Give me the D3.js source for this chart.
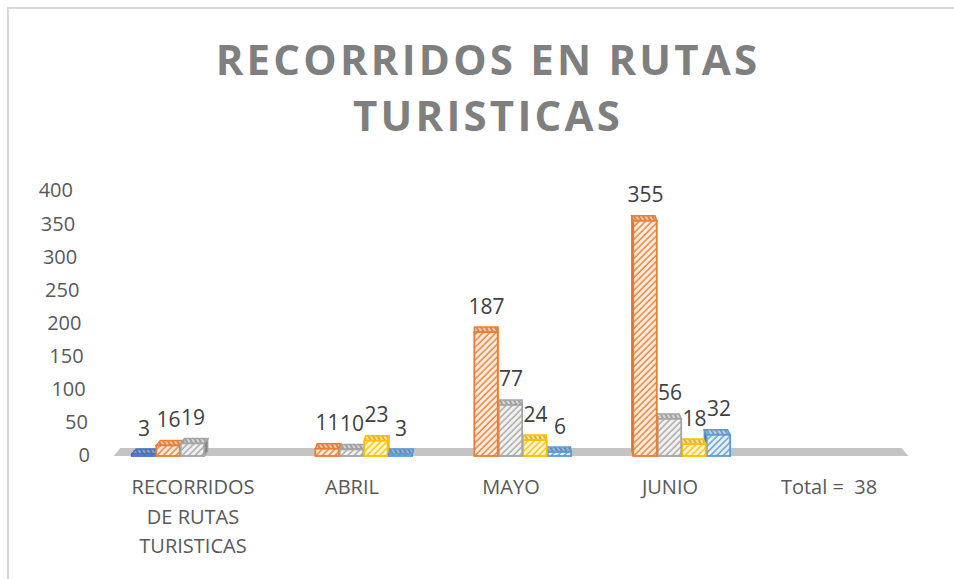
<body style="margin:0;background:#fff"></body>

<script src='https://d3js.org/d3.v7.min.js'></script>
<script>
    // chart data
    const categories = ["RECORRIDOS DE RUTAS TURISTICAS", "ABRIL", "MAYO", "JUNIO", "Total =  38"];
    const seriesNames = ["Serie1", "Serie2", "Serie3", "Serie4", "Serie5"];
    const serie1 = [3, null, null, null, null];
    const serie2 = [16, 11, 187, 355, null];
    const serie3 = [19, 10, 77, 56, null];
    const serie4 = [null, 23, 24, 18, null];
    const serie5 = [null, 3, 6, 32, null];
    const yTicks = [0, 50, 100, 150, 200, 250, 300, 350, 400];
    const colors = ["#4472C4", "#ED7D31", "#A5A5A5", "#FFC000", "#5B9BD5"];
    const title = ["RECORRIDOS EN RUTAS", "TURISTICAS"];

    const allSeries = [serie1, serie2, serie3, serie4, serie5];

    const width = 954;
    const height = 579;
    const font = "'Open Sans', 'DejaVu Sans', sans-serif";

    var svg = d3.select("body")
        .append("svg")
        .attr("width", width)
        .attr("height", height)
        .style("display", "block");

    // hatch patterns, one per colour
    var defs = svg.append("defs");
    colors.forEach(function (c, i) {
        var p = defs.append("pattern")
            .attr("id", "hatch" + i)
            .attr("patternUnits", "userSpaceOnUse")
            .attr("width", 4.5)
            .attr("height", 4.5)
            .attr("patternTransform", "rotate(45)");
        p.append("rect").attr("width", 4.5).attr("height", 4.5).attr("fill", "#fff");
        p.append("rect").attr("width", 4.5).attr("height", 4.5).attr("fill", c).attr("opacity", 0.15);
        p.append("line").attr("x1", 1).attr("x2", 1).attr("y1", 0).attr("y2", 4.5)
            .attr("stroke", c).attr("stroke-width", 1.4);
        var t = defs.append("pattern")
            .attr("id", "hatchTop" + i)
            .attr("patternUnits", "userSpaceOnUse")
            .attr("width", 4)
            .attr("height", 4)
            .attr("patternTransform", "rotate(-30)");
        t.append("rect").attr("width", 4).attr("height", 4).attr("fill", c).attr("opacity", 0.45);
        t.append("line").attr("x1", 1).attr("x2", 1).attr("y1", 0).attr("y2", 4)
            .attr("stroke", d3.color(c).darker(0.8)).attr("stroke-width", 1.2);
    });

    // chart frame
    svg.append("path")
        .attr("d", "M8," + height + " L8,8 L" + width + ",8")
        .attr("fill", "none")
        .attr("stroke", "#d9d9d9")
        .attr("stroke-width", 2);

    // title
    svg.append("g").selectAll("text")
        .data(title)
        .enter()
        .append("text")
        .attr("x", 488)
        .attr("y", function (d, i) { return 75 + i * 56; })
        .attr("text-anchor", "middle")
        .style("font-family", font)
        .style("font-size", "42px")
        .style("font-weight", "bold")
        .style("letter-spacing", "3.2px")
        .attr("fill", "#7f7f7f")
        .text(function (d) { return d; });

    var x0 = d3.scaleBand()
        .domain(categories)
        .range([113.5, 908.5]);
    var x1 = d3.scaleBand()
        .domain(seriesNames)
        .range([0, x0.bandwidth()])
        .paddingOuter(0.75);
    var y = d3.scaleLinear()
        .domain([0, 400])
        .range([456, 191]);
    // tick labels lean with the 3D wall
    var skew = d3.scaleLinear()
        .domain([0, 400])
        .range([90, 73]);

    // floor
    var fx0 = x0.range()[0], fx1 = x0.range()[1];
    svg.append("path")
        .attr("d", "M" + fx0 + "," + y(0) + " L" + (fx0 + 7) + "," + (y(0) - 8) +
            " L" + (fx1 - 7) + "," + (y(0) - 8) + " L" + fx1 + "," + y(0) + " Z")
        .attr("fill", "#c4c4c4");

    // y axis
    var yAxis = svg.append("g")
        .call(d3.axisLeft(y).tickValues(yTicks).tickSize(0).tickPadding(0));
    yAxis.select(".domain").remove();
    yAxis.selectAll(".tick")
        .attr("transform", function (d) { return "translate(" + skew(d) + "," + y(d) + ")"; });
    yAxis.selectAll("text")
        .style("font-family", font)
        .style("font-size", "20px")
        .attr("fill", "#595959");

    // bars, drawn so the visible side faces stack correctly
    var bars = [];
    categories.forEach(function (c, ci) {
        var row = [];
        allSeries.forEach(function (s, si) {
            if (s[ci] == null) return;
            row.push({ cat: c, ci: ci, si: si, value: s[ci] });
        });
        var center = x0(c) + x0.bandwidth() / 2;
        if (center > 500) row.reverse();
        bars = bars.concat(row);
    });

    var barG = svg.append("g");
    bars.forEach(function (b) {
        var bx = x0(b.cat) + x1(seriesNames[b.si]);
        var bw = x1.bandwidth() - 1;
        var yt = y(b.value), yb = y(0);
        var dx = (500 - (bx + bw / 2)) * 0.012;
        var dy = -5;
        var col = colors[b.si];
        var g = barG.append("g");
        // side face
        var sx = dx > 0 ? bx + bw : bx;
        g.append("path")
            .attr("d", "M" + sx + "," + yt + " L" + (sx + dx) + "," + (yt + dy) +
                " L" + (sx + dx) + "," + (yb + dy) + " L" + sx + "," + yb + " Z")
            .attr("fill", d3.color(col).darker(0.6))
            .attr("stroke", col)
            .attr("stroke-width", 1);
        // top face
        g.append("path")
            .attr("d", "M" + bx + "," + yt + " L" + (bx + bw) + "," + yt +
                " L" + (bx + bw + dx) + "," + (yt + dy) + " L" + (bx + dx) + "," + (yt + dy) + " Z")
            .attr("fill", "url(#hatchTop" + b.si + ")")
            .attr("stroke", col)
            .attr("stroke-width", 1.5);
        // front face
        g.append("rect")
            .attr("x", bx)
            .attr("y", yt)
            .attr("width", bw)
            .attr("height", yb - yt)
            .attr("fill", "url(#hatch" + b.si + ")")
            .attr("stroke", col)
            .attr("stroke-width", 1.8);
    });

    // data labels
    svg.append("g").selectAll("text")
        .data(bars)
        .enter()
        .append("text")
        .attr("x", function (d) { return x0(d.cat) + x1(seriesNames[d.si]) + x1.bandwidth() / 2; })
        .attr("y", function (d) { return y(d.value) - 18.5; })
        .attr("text-anchor", "middle")
        .style("font-family", font)
        .style("font-size", "21px")
        .attr("fill", "#404040")
        .text(function (d) { return d.value; });

    // category labels, wrapped
    var catG = svg.append("g");
    categories.forEach(function (c) {
        var cx = x0(c) + x0.bandwidth() / 2;
        var t = catG.append("text")
            .attr("x", cx)
            .attr("y", 494)
            .attr("text-anchor", "middle")
            .style("font-family", font)
            .style("font-size", "20px")
            .style("white-space", "pre")
            .attr("fill", "#595959");
        var words = c.split(" ");
        var line = [];
        var tspan = t.append("tspan").attr("x", cx).attr("dy", 0);
        words.forEach(function (w) {
            line.push(w);
            tspan.text(line.join(" "));
            if (tspan.node().getComputedTextLength() > 150 && line.length > 1) {
                line.pop();
                tspan.text(line.join(" "));
                line = [w];
                tspan = t.append("tspan")
                    .attr("x", cx)
                    .attr("dy", 29.5)
                    .text(w);
            }
        });
    });
</script>
